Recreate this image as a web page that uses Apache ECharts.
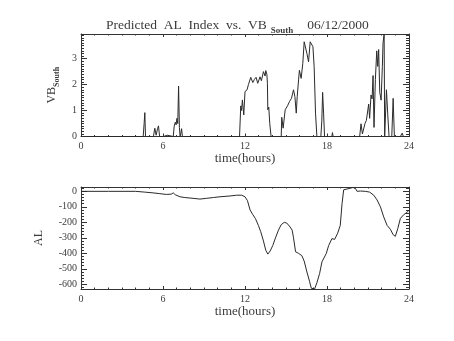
<!DOCTYPE html>
<html>
<head>
<meta charset="utf-8">
<script src="https://cdn.jsdelivr.net/npm/echarts@6/dist/echarts.min.js"></script>
<style>
  html, body { margin: 0; padding: 0; background: #fff; }
  #chart { width: 454px; height: 341px; }
</style>
</head>
<body>
<div id="chart"></div>
<script>
// Southward IMF component (VB_South), hours UT
const vbHours = [
  0, 4.55, 4.62, 4.67, 4.72, 5.3, 5.4, 5.5, 5.6, 5.67, 5.75, 6.05, 6.1, 6.15, 6.3, 6.4,
  6.75, 6.82, 6.9, 6.96, 7.02, 7.08, 7.14, 7.2, 7.25, 7.3, 7.36, 7.42,
  11.6, 11.69, 11.75, 11.81, 11.91, 12.0, 12.15, 12.25, 12.42, 12.57, 12.69, 12.81, 12.93,
  13.1, 13.2, 13.35, 13.47, 13.52, 13.6, 13.64, 13.67, 13.74, 13.81, 13.91,
  14.65, 14.69, 14.79, 14.94, 15.11, 15.26, 15.4, 15.55, 15.65, 15.75, 15.82, 15.92, 15.98,
  16.04, 16.11, 16.23, 16.33, 16.43, 16.53, 16.65, 16.77, 16.87, 16.97, 17.06, 17.16, 17.26,
  17.55, 17.62, 17.68, 17.75, 17.82, 18.35, 18.4, 18.45, 19.55, 19.6, 19.65,
  20.39, 20.49, 20.59, 20.68, 20.78, 20.88, 20.98, 21.05, 21.12, 21.22, 21.3, 21.37, 21.44,
  21.54, 21.64, 21.71, 21.78, 21.86, 21.96, 22.05, 22.1, 22.18, 22.22, 22.27, 22.35, 22.44,
  22.54, 22.74, 22.84, 22.93, 23.37, 23.5, 23.59, 24
];
const vbValues = [
  0, 0, 0.5, 0.92, 0, 0, 0.32, 0.05, 0.3, 0.41, 0, 0, 0.06, 0, 0.05, 0,
  0, 0.4, 0.55, 0.45, 0.7, 0.5, 1.94, 0.35, 0, 0.1, 0.3, 0,
  0, 1.18, 1.0, 1.41, 0.83, 1.73, 1.8, 2.0, 2.28, 2.08, 2.2, 2.28, 2.05,
  2.3, 2.15, 2.5, 2.33, 2.54, 2.4, 2.05, 1.03, 1.13, 0.5, 0,
  0, 0.74, 0.32, 1.03, 1.18, 1.35, 1.47, 1.8, 1.54, 0.9, 1.54, 2.18, 2.55,
  2.5, 2.24, 2.82, 3.65, 3.59, 3.2, 2.88, 3.65, 3.65, 3.46, 2.69, 0.9, 0,
  0, 0.6, 1.7, 0.9, 0, 0, 0.15, 0, 0, 0.05, 0,
  0, 0.49, 0.1, 0.05, 0.5, 0.62, 0.55, 1.25, 0.7, 1.6, 1.45, 2.35, 0.35,
  2.2, 3.3, 2.7, 3.35, 1.7, 1.4, 2.7, 3.6, 3.95, 0, 0, 1.8, 0.9,
  0, 0, 1.47, 0, 0, 0.13, 0, 0
];

// Predicted AL index (nT)
const alHours = [
  0, 2, 4, 4.67, 5.28, 5.77, 6.26, 6.6, 6.75, 6.9, 7.24, 7.6, 8.2, 8.7, 9.19, 9.68, 10.17,
  10.9, 11.39, 11.76, 12.0, 12.18, 12.37, 12.57, 12.76, 12.98, 13.15, 13.35, 13.52, 13.67,
  13.84, 14.03, 14.23, 14.45, 14.65, 14.87, 15.06, 15.3, 15.45, 15.55, 15.7, 15.92, 16.16,
  16.33, 16.53, 16.72, 16.85, 17.09, 17.26, 17.46, 17.63, 17.75, 17.95, 18.12, 18.36, 18.56,
  18.78, 18.97, 19.1, 19.22, 19.46, 19.71, 19.9, 20.07, 20.2, 20.44, 20.8, 21.12, 21.42,
  21.66, 21.91, 22.15, 22.4, 22.64, 22.84, 23.0, 23.18, 23.37, 23.62, 23.87, 24
];
const alValues = [
  0, 0, 0, -5, -10, -15, -20, -18, -10, -22, -35, -40, -45, -50, -45, -40, -35,
  -30, -25, -25, -35, -60, -120, -150, -175, -220, -260, -320, -380, -405,
  -385, -350, -300, -250, -215, -200, -205, -230, -250, -300, -390, -400, -415,
  -450, -520, -580, -625, -630, -590, -530, -455, -465, -400, -350, -305, -310,
  -270, -220, -80, 10, 15, 20, 25, 20, 0, 2, 0, -5, -25,
  -55, -100, -165, -220, -245, -280, -290, -240, -175, -150, -135, -120
];

const hourRange = [0, 24];
const hourStep = 6;
const vbRange = [0, 3.95];
const alRange = [-630, 28];

const FONT = '"Liberation Serif", "DejaVu Serif", serif';
const INK = '#333';
const TEXT = '#3c3c3c';

function xAxisFor(grid, pos, labelled) {
  return {
    type: 'value', gridIndex: grid, position: pos,
    min: hourRange[0], max: hourRange[1], interval: hourStep,
    axisLine: { onZero: false, lineStyle: { color: INK, width: 1 } },
    axisTick: { inside: true, length: 3, lineStyle: { color: INK } },
    minorTick: { show: true, splitNumber: 6, length: 1.5, lineStyle: { color: INK } },
    splitLine: { show: false },
    axisLabel: { show: labelled, margin: 5, fontSize: 10, fontFamily: FONT, color: TEXT },
    name: labelled ? 'time(hours)' : '',
    nameLocation: 'middle', nameGap: 15,
    nameTextStyle: { fontSize: 13, fontFamily: FONT, color: TEXT }
  };
}

function yAxisFor(grid, pos, labelled, range, opts) {
  const a = {
    type: 'value', gridIndex: grid, position: pos,
    min: range[0], max: range[1],
    axisLine: { onZero: false, lineStyle: { color: INK, width: 1 } },
    axisTick: { inside: true, length: 6, lineStyle: { color: INK } },
    minorTick: { show: true, splitNumber: opts.minor, length: 3, lineStyle: { color: INK } },
    splitLine: { show: false },
    axisLabel: {
      show: labelled, margin: 4, fontSize: 10, fontFamily: FONT, color: TEXT,
      showMinLabel: opts.showMin, showMaxLabel: false
    }
  };
  if (opts.interval) a.interval = opts.interval;
  if (labelled) {
    a.name = opts.name;
    a.nameLocation = 'middle';
    a.nameRotate = 90;
    a.nameGap = opts.gap;
    a.nameTextStyle = {
      fontSize: 12, fontFamily: FONT, color: TEXT,
      rich: {
        m: { fontSize: 12, fontFamily: FONT, color: TEXT, lineHeight: 14 },
        s: { fontSize: 8, fontFamily: FONT, color: TEXT, fontWeight: 'bold', lineHeight: 9, padding: [10, 0, 0, 0] }
      }
    };
  }
  return a;
}

const chart = echarts.init(document.getElementById('chart'), null, { renderer: 'canvas' });
chart.setOption({
  animation: false,
  backgroundColor: '#fff',
  title: {
    text: '{m|Predicted  AL  Index  vs.  VB}{s|South}{d|06/12/2000}',
    left: 101, top: 12,
    textStyle: {
      fontWeight: 'normal',
      rich: {
        m: { fontSize: 13.5, fontFamily: FONT, color: TEXT, fontWeight: 'normal', lineHeight: 16 },
        s: { fontSize: 9, fontFamily: FONT, color: TEXT, fontWeight: 'bold', lineHeight: 10, padding: [12, 0, 0, 4] },
        d: { fontSize: 13.5, fontFamily: FONT, color: TEXT, fontWeight: 'normal', lineHeight: 16, padding: [0, 0, 0, 14] }
      }
    }
  },
  grid: [
    { left: 81, right: 45, top: 34, height: 102.5 },
    { left: 81, right: 45, top: 187, height: 102 }
  ],
  xAxis: [
    xAxisFor(0, 'bottom', true),
    xAxisFor(0, 'top', false),
    xAxisFor(1, 'bottom', true),
    xAxisFor(1, 'top', false)
  ],
  yAxis: [
    yAxisFor(0, 'left', true, vbRange, { interval: 1, minor: 10, showMin: true, name: '{m|VB}{s|South}', gap: 9 }),
    yAxisFor(0, 'right', false, vbRange, { interval: 1, minor: 10, showMin: true }),
    yAxisFor(1, 'left', true, alRange, { minor: 5, showMin: false, name: 'AL', gap: 36 }),
    yAxisFor(1, 'right', false, alRange, { minor: 5, showMin: false })
  ],
  series: [
    {
      type: 'line', xAxisIndex: 0, yAxisIndex: 0, showSymbol: false,
      lineStyle: { color: '#2a2a2a', width: 1 },
      data: vbHours.map((h, i) => [h, vbValues[i]])
    },
    {
      type: 'line', xAxisIndex: 2, yAxisIndex: 2, showSymbol: false,
      lineStyle: { color: '#2a2a2a', width: 1 },
      data: alHours.map((h, i) => [h, alValues[i]])
    }
  ]
});
</script>
</body>
</html>
